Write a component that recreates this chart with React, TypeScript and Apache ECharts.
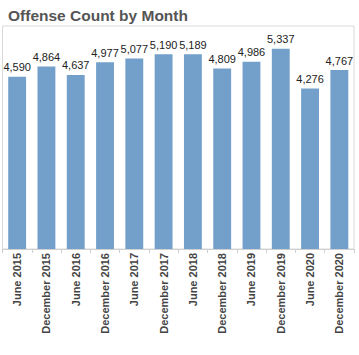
import React, { useEffect, useRef } from "react";
import * as echarts from "echarts";

const categories = [
  "June 2015", "December 2015", "June 2016", "December 2016", "June 2017", "December 2017",
  "June 2018", "December 2018", "June 2019", "December 2019", "June 2020", "December 2020",
];
const offenseCounts = [4590, 4864, 4637, 4977, 5077, 5190, 5189, 4809, 4986, 5337, 4276, 4767];
const chartTitle = "Offense Count by Month";

export default function App() {
  const ref = useRef<HTMLDivElement>(null);
  useEffect(() => {
    if (!ref.current) return;
    const chart = echarts.init(ref.current, null, { renderer: "svg" });
    chart.setOption({
      animation: false,
      backgroundColor: "#ffffff",
      title: {
        text: chartTitle,
        left: 3,
        top: 2,
        textStyle: { fontFamily: "Liberation Sans, Arial, sans-serif", fontSize: 15.5, fontWeight: "bold", color: "#555555" },
      },
      grid: {
        show: true,
        left: 2.5,
        top: 26,
        width: 351.5,
        height: 223,
        borderColor: "#d9d9d9",
        borderWidth: 1,
        containLabel: false,
      },
      xAxis: {
        type: "category",
        data: categories,
        boundaryGap: true,
        axisLine: { show: true, lineStyle: { color: "#d0d0d0", width: 1 } },
        axisTick: { show: true, length: 4, lineStyle: { color: "#d0d0d0" } },
        axisLabel: {
          rotate: 90,
          interval: 0,
          margin: 4,
          fontFamily: "Liberation Sans, Arial, sans-serif",
          fontSize: 11,
          fontWeight: "bold",
          color: "#444444",
        },
      },
      yAxis: {
        type: "value",
        min: 0,
        max: 5940,
        show: false,
        splitLine: { show: false },
      },
      series: [
        {
          type: "bar",
          data: offenseCounts,
          barWidth: "61%",
          itemStyle: { color: "#72a0ca" },
          label: {
            show: true,
            position: "top",
            distance: 4,
            fontFamily: "Liberation Sans, Arial, sans-serif",
            fontSize: 11,
            color: "#222222",
            formatter: (p: any) => Number(p.value).toLocaleString("en-US"),
          },
        },
      ],
    });
    return () => chart.dispose();
  }, []);
  return <div ref={ref} style={{ position: "fixed", left: 0, top: 0, width: 359, height: 355 }} />;
}
